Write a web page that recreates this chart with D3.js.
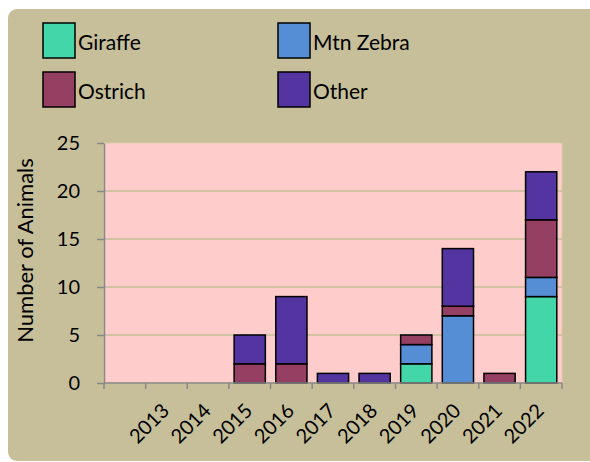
<!DOCTYPE html>
<html>
<head>
<meta charset="utf-8">
<script src="https://cdn.jsdelivr.net/npm/d3@7"></script>
<style>
  body { margin: 0; background: #fff; }
  text { font-family: Lato, "Open Sans", sans-serif; fill: #000; }
</style>
</head>
<body>
<div id="chart"></div>
<script>
// data
var years = ["", "2013", "2014", "2015", "2016", "2017", "2018", "2019", "2020", "2021", "2022"];
var giraffe   = [0, 0, 0, 0, 0, 0, 0, 2, 0, 0, 9];
var mtnZebra  = [0, 0, 0, 0, 0, 0, 0, 2, 7, 0, 2];
var ostrich   = [0, 0, 0, 2, 2, 0, 0, 1, 1, 1, 6];
var other     = [0, 0, 0, 3, 7, 1, 1, 0, 6, 0, 5];
var seriesNames = ["Giraffe", "Mtn Zebra", "Ostrich", "Other"];
var seriesColors = ["#43d6a8", "#558ed5", "#953f62", "#5434a0"];
var yTicks = [0, 5, 10, 15, 20, 25];

var W = 590, H = 462;
var plot = { left: 104, top: 143, right: 562, bottom: 383 };

var svg = d3.select("#chart").append("svg")
    .attr("width", W)
    .attr("height", H);

// outer panel
svg.append("rect")
    .attr("x", 8).attr("y", 9)
    .attr("width", 600).attr("height", 452)
    .attr("rx", 9)
    .attr("fill", "#c6bf99");

// legend
var legendPos = [[43, 23], [278, 23], [43, 72], [278, 72]];
var legend = svg.append("g").selectAll("g")
    .data(seriesNames)
    .enter().append("g")
    .attr("transform", function (d, i) { return "translate(" + legendPos[i][0] + "," + legendPos[i][1] + ")"; });
legend.append("rect")
    .attr("width", 32).attr("height", 35)
    .attr("fill", function (d, i) { return seriesColors[i]; })
    .attr("stroke", "#000").attr("stroke-width", 1.5);
legend.append("text")
    .attr("x", 35).attr("y", 27)
    .style("font-size", "21px")
    .text(function (d) { return d; });

var rows = years.map(function (y, i) {
    return { year: y, Giraffe: giraffe[i], "Mtn Zebra": mtnZebra[i], Ostrich: ostrich[i], Other: other[i] };
});
var stacked = d3.stack().keys(seriesNames)(rows);

var x = d3.scaleBand().domain(d3.range(years.length))
    .range([plot.left, plot.right])
    .paddingInner(0.25).paddingOuter(0.125);
var y = d3.scaleLinear().domain([0, 25]).range([plot.bottom, plot.top]);

// plot area
svg.append("rect")
    .attr("x", plot.left).attr("y", plot.top)
    .attr("width", plot.right - plot.left).attr("height", plot.bottom - plot.top)
    .attr("fill", "#ffcccc")
    .attr("stroke", "#dccaa8").attr("stroke-width", 1);

// gridlines
svg.append("g").selectAll("line")
    .data(yTicks.filter(function (t) { return t > 0 && t < 25; }))
    .enter().append("line")
    .attr("x1", plot.left).attr("x2", plot.right)
    .attr("y1", function (d) { return y(d); }).attr("y2", function (d) { return y(d); })
    .attr("stroke", "#c6bf99").attr("stroke-width", 1.5);

// bars
svg.append("g").selectAll("g")
    .data(stacked)
    .enter().append("g")
    .attr("fill", function (d, i) { return seriesColors[i]; })
    .selectAll("rect")
    .data(function (d) { return d.filter(function (p) { return p[1] > p[0]; }); })
    .enter().append("rect")
    .attr("x", function (d) { return x(years.indexOf(d.data.year)); })
    .attr("width", x.bandwidth())
    .attr("y", function (d) { return y(d[1]); })
    .attr("height", function (d) { return y(d[0]) - y(d[1]); })
    .attr("stroke", "#000").attr("stroke-width", 1.5);

// y axis
var yAxis = svg.append("g")
    .attr("transform", "translate(" + plot.left + ",0)")
    .call(d3.axisLeft(y).tickValues(yTicks).tickSize(7).tickPadding(17).tickSizeOuter(0));
yAxis.select(".domain").attr("stroke", "#888").attr("stroke-width", 1.5);
yAxis.selectAll(".tick line").attr("stroke", "#888").attr("stroke-width", 1.5);
yAxis.selectAll(".tick text").style("font-size", "20px").style("font-family", "Lato, sans-serif").attr("fill", "#000");

// x axis: ticks on band edges
var edges = d3.range(years.length + 1).map(function (i) {
    return plot.left + i * (plot.right - plot.left) / years.length;
});
var xAxis = svg.append("g");
xAxis.append("line")
    .attr("x1", plot.left).attr("x2", plot.right)
    .attr("y1", plot.bottom).attr("y2", plot.bottom)
    .attr("stroke", "#888").attr("stroke-width", 1.5);
xAxis.selectAll(".xt")
    .data(edges)
    .enter().append("line")
    .attr("class", "xt")
    .attr("x1", function (d) { return d; }).attr("x2", function (d) { return d; })
    .attr("y1", plot.bottom).attr("y2", plot.bottom + 6)
    .attr("stroke", "#888").attr("stroke-width", 1.5);
xAxis.selectAll("text")
    .data(years)
    .enter().append("text")
    .attr("transform", function (d, i) {
        return "translate(" + (x(i) + x.bandwidth() / 2 + 4) + "," + (plot.bottom + 29) + ") rotate(-45)";
    })
    .attr("text-anchor", "end")
    .style("font-size", "20px")
    .text(function (d) { return d; });

// y axis title
svg.append("text")
    .attr("transform", "translate(33,250.5) rotate(-90)")
    .attr("text-anchor", "middle")
    .style("font-size", "22px")
    .text("Number of Animals");
</script>
</body>
</html>
